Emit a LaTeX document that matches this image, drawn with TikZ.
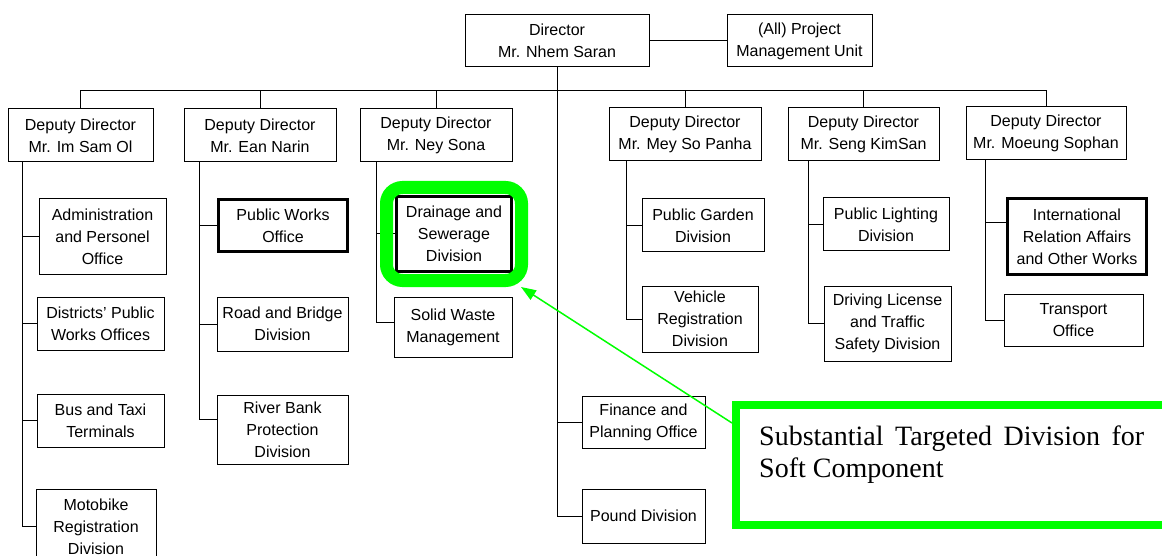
\documentclass[tikz,border=0pt]{standalone}
\usepackage{fontspec}
\setmainfont{Liberation Sans}
\newfontfamily\calloutfont{Liberation Serif}
\usetikzlibrary{arrows.meta}
\definecolor{markGreen}{RGB}{0,255,0}

\begin{document}
\begin{tikzpicture}[x=1pt, y=-1pt,
	orgBox/.style={rectangle, draw, line width=1pt, align=center, inner sep=0pt, font=\fontsize{16}{22}\selectfont},
	keyBox/.style={orgBox, line width=3pt},
	link/.style={line width=1pt},
	haloBox/.style={rectangle, draw=markGreen, line width=13pt, rounded corners=16pt},
	calloutFrame/.style={rectangle, draw=markGreen, line width=8pt},
	calloutText/.style={text width=385pt, align=justify, inner sep=0pt, font=\calloutfont\fontsize{28}{32}\selectfont},
	pointer/.style={draw=markGreen, line width=1.5pt, -{Triangle[length=15pt, width=11pt]}}]
	\useasboundingbox (0,0) rectangle (1162,556);

	% top level
	\node[orgBox, minimum width=184, minimum height=52](dirBox) at (557,41){Director\\Mr. Nhem Saran};
	\node[orgBox, minimum width=145, minimum height=52](pmuBox) at (799.5,41){(All) Project\\Management Unit};

	% deputies
	\node[orgBox, minimum width=145, minimum height=53](dep1Box) at (80.5,135.5){Deputy Director\\Mr. Im Sam Ol};
	\node[orgBox, minimum width=152, minimum height=53](dep2Box) at (260,135.5){Deputy Director\\Mr. Ean Narin};
	\node[orgBox, minimum width=152, minimum height=53](dep3Box) at (436,135.5){Deputy Director\\Mr. Ney Sona};
	\node[orgBox, minimum width=152, minimum height=53](dep4Box) at (685,134.5){Deputy Director\\Mr. Mey So Panha};
	\node[orgBox, minimum width=151, minimum height=53](dep5Box) at (863.5,134.5){Deputy Director\\Mr. Seng KimSan};
	\node[orgBox, minimum width=160, minimum height=53](dep6Box) at (1046,133.5){Deputy Director\\Mr. Moeung Sophan};

	% offices and divisions
	\node[orgBox, minimum width=127, minimum height=75](adminBox) at (102.5,236.5){Administration\\and Personel\\Office};
	\node[orgBox, minimum width=127, minimum height=53](distBox) at (100.5,323.5){Districts' Public\\Works Offices};
	\node[orgBox, minimum width=127, minimum height=53](busBox) at (100.5,420.5){Bus and Taxi\\Terminals};
	\node[orgBox, minimum width=120, minimum height=75](motoBox) at (96,526.5){Motobike\\Registration\\Division};

	\node[keyBox, minimum width=129, minimum height=52](pwoBox) at (283,225.5){Public Works\\Office};
	\node[orgBox, minimum width=131, minimum height=54](roadBox) at (282.5,324){Road and Bridge\\Division};
	\node[orgBox, minimum width=131, minimum height=69](riverBox) at (282.5,429.5){River Bank\\Protection\\Division};

	\node[keyBox, minimum width=115, minimum height=75](drainBox) at (454,234){Drainage and\\Sewerage\\Division};
	\node[orgBox, minimum width=118, minimum height=60](solidBox) at (453,327.5){Solid Waste\\Management};

	\node[orgBox, minimum width=123, minimum height=52](finBox) at (643.5,422){Finance and\\Planning Office};
	\node[orgBox, minimum width=123, minimum height=54](poundBox) at (643.5,516){Pound Division};

	\node[orgBox, minimum width=122, minimum height=53](gardenBox) at (703,225.5){Public Garden\\Division};
	\node[orgBox, minimum width=116, minimum height=66](vehBox) at (700,319){Vehicle\\Registration\\Division};

	\node[orgBox, minimum width=126, minimum height=53](lightBox) at (886,224.5){Public Lighting\\Division};
	\node[orgBox, minimum width=127, minimum height=75](driveBox) at (887.5,323.5){Driving License\\and Traffic\\Safety Division};

	\node[keyBox, minimum width=139, minimum height=76](intlBox) at (1077,236.5){International\\Relation Affairs\\and Other Works};
	\node[orgBox, minimum width=139, minimum height=52](transBox) at (1073.5,320){Transport\\Office};

	% lines
	\coordinate(busLine) at (0,91);
	\coordinate(trunk1) at (22,162);
	\coordinate(trunk2) at (199,162);
	\coordinate(trunk3) at (376,162);
	\coordinate(trunk4) at (626,161);
	\coordinate(trunk5) at (808,161);
	\coordinate(trunk6) at (985,160);

	\draw[link] (dirBox.east) -- (pmuBox.west);
	\draw[link] (dep1Box.north) -- (dep1Box.north |- busLine) -- (dep6Box.north |- busLine) -- (dep6Box.north);
	\draw[link] (dep2Box.north) -- (dep2Box.north |- busLine);
	\draw[link] (dep3Box.north) -- (dep3Box.north |- busLine);
	\draw[link] (dep4Box.north) -- (dep4Box.north |- busLine);
	\draw[link] (dep5Box.north) -- (dep5Box.north |- busLine);
	\draw[link] (dirBox.south) |- (poundBox.west);
	\draw[link] (dirBox.south |- finBox.west) -- (finBox.west);

	\draw[link] (trunk1) |- (motoBox.west);
	\draw[link] (trunk1 |- adminBox.west) -- (adminBox.west);
	\draw[link] (trunk1 |- distBox.west) -- (distBox.west);
	\draw[link] (trunk1 |- busBox.west) -- (busBox.west);

	\draw[link] (trunk2) |- ([yshift=10.5pt]riverBox.west);
	\draw[link] (trunk2 |- pwoBox.west) -- (pwoBox.west);
	\draw[link] (trunk2 |- roadBox.west) -- (roadBox.west);

	\draw[link] (trunk3) |- ([yshift=5.5pt]solidBox.west);
	\draw[link] (trunk3 |- drainBox.west) -- (drainBox.west);

	\draw[link] (trunk4) |- (vehBox.west);
	\draw[link] (trunk4 |- gardenBox.west) -- (gardenBox.west);

	\draw[link] (trunk5) |- (driveBox.west);
	\draw[link] (trunk5 |- lightBox.west) -- (lightBox.west);

	\draw[link] (trunk6) |- (transBox.west);
	\draw[link] (trunk6 |- intlBox.west) ++(0,-13.5) -- ([yshift=13.5pt]intlBox.west);

	% highlight and note
	\node[haloBox, minimum width=135, minimum height=93](drainHalo) at (drainBox.center){};
	\node[calloutFrame, minimum width=450, minimum height=120](calloutBox) at (961,465){};
	\node[calloutText, anchor=north west](calloutTxt) at (759,426){Substantial Targeted Division for\linebreak Soft Component};
	\draw[pointer] ([yshift=-22pt]calloutBox.north west) -- ([xshift=-7pt]drainHalo.south east);
\end{tikzpicture}
\end{document}
